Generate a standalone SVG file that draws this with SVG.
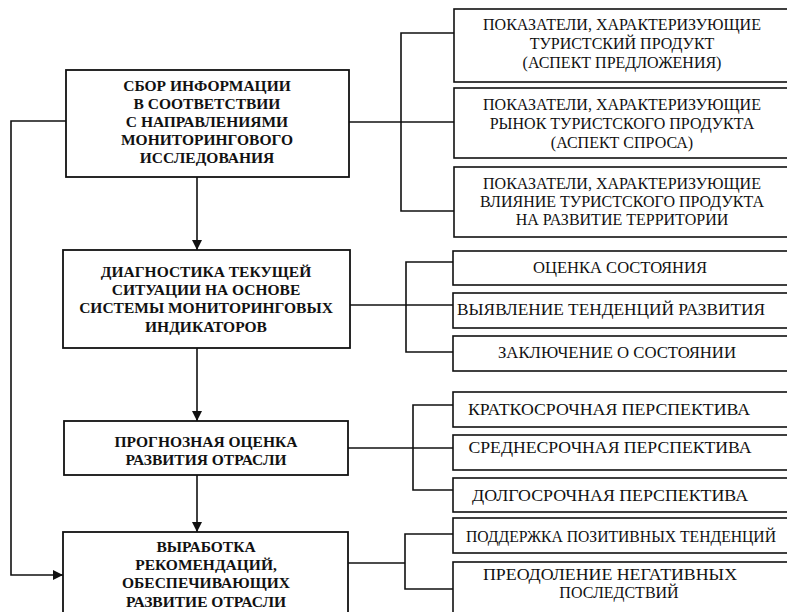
<svg xmlns="http://www.w3.org/2000/svg" width="787" height="612" viewBox="0 0 787 612">
  <style>
    .box { fill: #ffffff; stroke: #111111; stroke-width: 1.8; }
    .sub { fill: #ffffff; stroke: #111111; stroke-width: 1.6; }
    .main { font-family: "Liberation Serif", "Times New Roman", serif; font-weight: bold; font-size: 15.5px; fill: #111111; text-anchor: middle; }
    .item { font-family: "Liberation Serif", "Times New Roman", serif; font-size: 16px; fill: #111111; text-anchor: middle; }
    .wire { fill: none; stroke: #111111; stroke-width: 1.6; }
  </style>
  <defs>
    <marker id="arrow" viewBox="0 0 10 10" refX="10" refY="5" markerWidth="10" markerHeight="10" markerUnits="userSpaceOnUse" orient="auto">
      <path d="M0,0 L10,5 L0,10 Z" fill="#111111"/>
    </marker>
  </defs>
  <rect width="787" height="612" fill="#ffffff"/>

  <!-- connectors -->
  <g id="connectors">
    <!-- main flow -->
    <line class="wire" x1="197" y1="177" x2="197" y2="250" marker-end="url(#arrow)"/>
    <line class="wire" x1="197" y1="348" x2="197" y2="421" marker-end="url(#arrow)"/>
    <line class="wire" x1="197" y1="475" x2="197" y2="532" marker-end="url(#arrow)"/>
    <!-- feedback loop from the first stage to the last -->
    <polyline class="wire" points="66,121 11,121 11,575 63,575" marker-end="url(#arrow)"/>
    <!-- bracket 1 -->
    <line class="wire" x1="349" y1="122" x2="454" y2="122"/>
    <polyline class="wire" points="454,33 401,33 401,211 454,211"/>
    <!-- bracket 2 -->
    <line class="wire" x1="350" y1="305" x2="453" y2="305"/>
    <polyline class="wire" points="453,262 406,262 406,352 453,352"/>
    <!-- bracket 3 -->
    <line class="wire" x1="348" y1="448" x2="453" y2="448"/>
    <polyline class="wire" points="453,405 413,405 413,490 453,490"/>
    <!-- bracket 4 -->
    <line class="wire" x1="348" y1="563" x2="405" y2="563"/>
    <polyline class="wire" points="453,534 405,534 405,589 453,589"/>
  </g>

  <!-- main stages -->
  <g id="stage-collect">
    <rect class="box" x="66" y="70" width="283" height="107"/>
    <text class="main" x="207" y="91">СБОР ИНФОРМАЦИИ</text>
    <text class="main" x="207" y="109">В СООТВЕТСТВИИ</text>
    <text class="main" x="207" y="127">С НАПРАВЛЕНИЯМИ</text>
    <text class="main" x="207" y="145">МОНИТОРИНГОВОГО</text>
    <text class="main" x="207" y="163">ИССЛЕДОВАНИЯ</text>
  </g>
  <g id="stage-diagnose">
    <rect class="box" x="63" y="250" width="287" height="98"/>
    <text class="main" x="206" y="277">ДИАГНОСТИКА ТЕКУЩЕЙ</text>
    <text class="main" x="206" y="295">СИТУАЦИИ НА ОСНОВЕ</text>
    <text class="main" x="206" y="313">СИСТЕМЫ МОНИТОРИНГОВЫХ</text>
    <text class="main" x="206" y="332">ИНДИКАТОРОВ</text>
  </g>
  <g id="stage-forecast">
    <rect class="box" x="64" y="421" width="284" height="54"/>
    <text class="main" x="206" y="447">ПРОГНОЗНАЯ ОЦЕНКА</text>
    <text class="main" x="206" y="465">РАЗВИТИЯ ОТРАСЛИ</text>
  </g>
  <g id="stage-recommend">
    <rect class="box" x="63" y="532" width="285" height="90"/>
    <text class="main" x="206" y="552">ВЫРАБОТКА</text>
    <text class="main" x="206" y="570">РЕКОМЕНДАЦИЙ,</text>
    <text class="main" x="206" y="588">ОБЕСПЕЧИВАЮЩИХ</text>
    <text class="main" x="206" y="607">РАЗВИТИЕ ОТРАСЛИ</text>
  </g>

  <!-- indicator groups -->
  <g id="ind-supply">
    <rect class="sub" x="454" y="9" width="340" height="73"/>
    <text class="item" x="622" y="30">ПОКАЗАТЕЛИ, ХАРАКТЕРИЗУЮЩИЕ</text>
    <text class="item" x="622" y="49">ТУРИСТСКИЙ ПРОДУКТ</text>
    <text class="item" x="622" y="68">(АСПЕКТ ПРЕДЛОЖЕНИЯ)</text>
  </g>
  <g id="ind-demand">
    <rect class="sub" x="454" y="88" width="340" height="70"/>
    <text class="item" x="622" y="110">ПОКАЗАТЕЛИ, ХАРАКТЕРИЗУЮЩИЕ</text>
    <text class="item" x="622" y="129">РЫНОК ТУРИСТСКОГО ПРОДУКТА</text>
    <text class="item" x="622" y="148">(АСПЕКТ СПРОСА)</text>
  </g>
  <g id="ind-territory">
    <rect class="sub" x="454" y="167" width="340" height="70"/>
    <text class="item" x="622" y="189">ПОКАЗАТЕЛИ, ХАРАКТЕРИЗУЮЩИЕ</text>
    <text class="item" x="622" y="207">ВЛИЯНИЕ ТУРИСТСКОГО ПРОДУКТА</text>
    <text class="item" x="622" y="225">НА РАЗВИТИЕ ТЕРРИТОРИИ</text>
  </g>

  <!-- diagnosis outputs -->
  <g id="diag-state">
    <rect class="sub" x="453" y="251" width="340" height="34"/>
    <text class="item" x="620" y="273" textLength="174" lengthAdjust="spacingAndGlyphs">ОЦЕНКА СОСТОЯНИЯ</text>
  </g>
  <g id="diag-trends">
    <rect class="sub" x="453" y="293" width="340" height="35"/>
    <text class="item" x="611" y="315" textLength="308" lengthAdjust="spacingAndGlyphs">ВЫЯВЛЕНИЕ ТЕНДЕНЦИЙ РАЗВИТИЯ</text>
  </g>
  <g id="diag-conclusion">
    <rect class="sub" x="453" y="336" width="340" height="35"/>
    <text class="item" x="617" y="358" textLength="238" lengthAdjust="spacingAndGlyphs">ЗАКЛЮЧЕНИЕ О СОСТОЯНИИ</text>
  </g>

  <!-- forecast horizons -->
  <g id="horizon-short">
    <rect class="sub" x="453" y="392" width="340" height="35"/>
    <text class="item" x="609" y="415" textLength="282" lengthAdjust="spacingAndGlyphs">КРАТКОСРОЧНАЯ ПЕРСПЕКТИВА</text>
  </g>
  <g id="horizon-medium">
    <rect class="sub" x="453" y="435" width="340" height="35"/>
    <text class="item" x="610" y="453" textLength="283" lengthAdjust="spacingAndGlyphs">СРЕДНЕСРОЧНАЯ ПЕРСПЕКТИВА</text>
  </g>
  <g id="horizon-long">
    <rect class="sub" x="453" y="478" width="340" height="34"/>
    <text class="item" x="610" y="501" textLength="276" lengthAdjust="spacingAndGlyphs">ДОЛГОСРОЧНАЯ ПЕРСПЕКТИВА</text>
  </g>

  <!-- recommendations -->
  <g id="rec-support">
    <rect class="sub" x="453" y="518" width="340" height="35"/>
    <text class="item" x="621" y="542" textLength="310" lengthAdjust="spacingAndGlyphs">ПОДДЕРЖКА ПОЗИТИВНЫХ ТЕНДЕНЦИЙ</text>
  </g>
  <g id="rec-overcome">
    <rect class="sub" x="453" y="562" width="340" height="60"/>
    <text class="item" x="610" y="580" textLength="254" lengthAdjust="spacingAndGlyphs">ПРЕОДОЛЕНИЕ НЕГАТИВНЫХ</text>
    <text class="item" x="619" y="598">ПОСЛЕДСТВИЙ</text>
  </g>
</svg>
